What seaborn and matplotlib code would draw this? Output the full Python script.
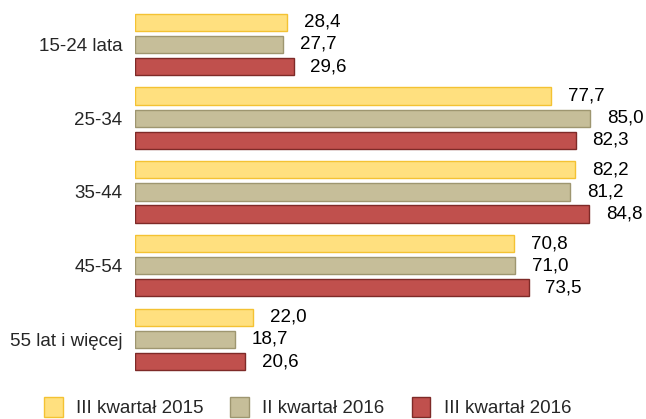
import pandas as pd
import matplotlib.pyplot as plt
import seaborn as sns
from matplotlib.patches import Patch

# dane
grupy = ['15-24 lata', '25-34', '35-44', '45-54', '55 lat i więcej']
serie = ['III kwartał 2015', 'II kwartał 2016', 'III kwartał 2016']
q3_2015 = [28.4, 77.7, 82.2, 70.8, 22.0]
q2_2016 = [27.7, 85.0, 81.2, 71.0, 18.7]
q3_2016 = [29.6, 82.3, 84.8, 73.5, 20.6]

kolory = ['#FFE07F', '#C6BE99', '#C0504D']
krawedzie = ['#F4C233', '#9E9670', '#7E2A28']

df = pd.DataFrame({
    'grupa': grupy * 3,
    'seria': [s for s in serie for _ in grupy],
    'wartosc': q3_2015 + q2_2016 + q3_2016,
})

sns.set_style('white')
plt.rcParams['font.family'] = ['Liberation Sans', 'DejaVu Sans']

fig = plt.figure(figsize=(6.46, 4.19), dpi=100)
ax = fig.add_axes([135 / 646, 0.102, (644 - 135) / 646, 0.880])

sns.barplot(data=df, y='grupa', x='wartosc', hue='seria', order=grupy,
            hue_order=serie, palette=kolory, saturation=1, width=0.9, gap=0.22,
            orient='h', legend=False, ax=ax)

for i, cont in enumerate(ax.containers):
    for bar in cont:
        bar.set_edgecolor(krawedzie[i])
        bar.set_linewidth(1.0)
    ax.bar_label(cont, labels=[f'{v:.1f}'.replace('.', ',') for v in cont.datavalues],
                 padding=12, fontsize=13.5, color='black')

ax.set_xlim(0, 95)
ax.set_xlabel('')
ax.set_ylabel('')
ax.set_xticks([])
ax.tick_params(axis='y', length=0, labelsize=13.5, pad=9)
for s in ax.spines.values():
    s.set_visible(False)

uchwyty = [Patch(facecolor=kolory[i], edgecolor=krawedzie[i], label=serie[i]) for i in range(3)]
fig.legend(handles=uchwyty, loc='lower center', bbox_to_anchor=(0.476, -0.036), ncol=3,
           frameon=False, fontsize=13.5, handlelength=1.0, handleheight=1.3,
           handletextpad=0.7, columnspacing=1.45)

fig.savefig('out.png', dpi=100)
